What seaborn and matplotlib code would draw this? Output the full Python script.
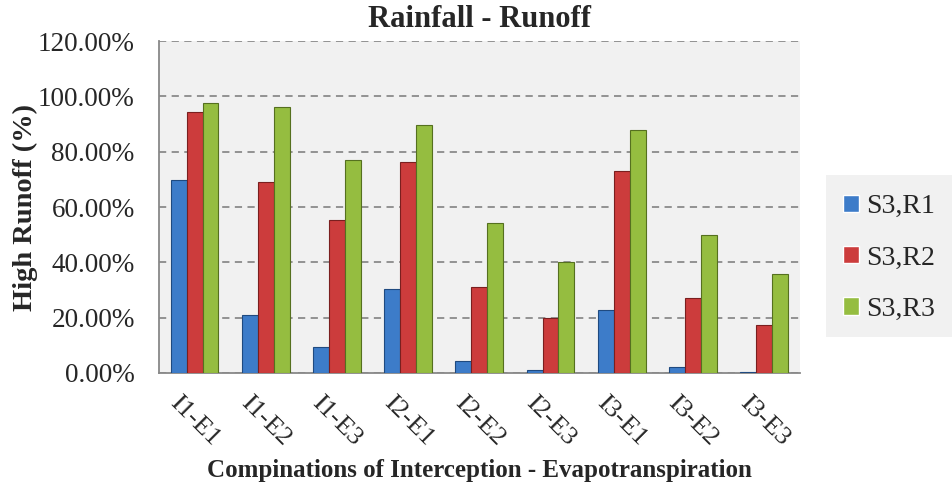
import numpy as np
import pandas as pd
import matplotlib
matplotlib.use("Agg")
import matplotlib.pyplot as plt
from matplotlib.patches import Rectangle
from matplotlib.ticker import PercentFormatter, FixedLocator
import seaborn as sns

# data (percent)
combos = ["I1-E1", "I1-E2", "I1-E3", "I2-E1", "I2-E2", "I2-E3", "I3-E1", "I3-E2", "I3-E3"]
s3_r1 = [69.7, 20.8, 9.3, 30.2, 4.2, 1.2, 22.6, 2.1, 0.5]
s3_r2 = [94.2, 69.0, 55.2, 76.2, 30.9, 19.8, 73.0, 27.0, 17.2]
s3_r3 = [97.5, 96.2, 77.0, 89.6, 54.3, 40.0, 87.8, 49.8, 35.7]
series = ["S3,R1", "S3,R2", "S3,R3"]
colors = ["#3d7cc9", "#cc3c3c", "#95bd40"]
edges = ["#1f4a80", "#7a1f1f", "#55701f"]

df = pd.DataFrame({"combo": combos, "S3,R1": s3_r1, "S3,R2": s3_r2, "S3,R3": s3_r3})
long = df.melt(id_vars="combo", var_name="series", value_name="runoff")

sns.set_style("white")
plt.rcParams["font.family"] = ["Liberation Serif", "DejaVu Serif"]

fig = plt.figure(figsize=(9.52, 4.9), dpi=100)

# legend box on the right (drawn below everything else)
fig.patches.append(Rectangle((826 / 952, 1 - 337 / 490), 126 / 952, 162 / 490,
                             transform=fig.transFigure, facecolor="#f1f1f1",
                             edgecolor="none", zorder=-5))

ax = fig.add_axes([0.167, 0.239, 0.673, 0.677])
ax.set_facecolor("#f1f1f1")

sns.barplot(data=long, x="combo", y="runoff", hue="series", hue_order=series,
            palette=colors, saturation=1, width=0.67, ax=ax, legend=True, zorder=3)
for cont, ec in zip(ax.containers, edges):
    for bar in cont:
        bar.set_edgecolor(ec)
        bar.set_linewidth(0.8)

ax.set_ylim(0, 120)
ax.set_xlim(-0.5, len(combos) - 0.5)
ax.yaxis.set_major_locator(FixedLocator([0, 20, 40, 60, 80, 100, 120]))
ax.yaxis.set_major_formatter(PercentFormatter(decimals=2))
ax.grid(axis="y", color="#8a8a8a", linestyle=(0, (4, 3)), linewidth=1.3, zorder=0)

for side in ["top", "right"]:
    ax.spines[side].set_visible(False)
for side in ["left", "bottom"]:
    ax.spines[side].set_color("#888888")
    ax.spines[side].set_linewidth(1.3)

ax.tick_params(axis="y", which="major", direction="inout", length=11, width=1.2,
               color="#888888", labelsize=19.5, pad=12)
ax.set_xticks(np.arange(len(combos)))
ax.set_xticklabels(combos, rotation=-45, ha="center", fontsize=19)
ax.tick_params(axis="x", which="major", length=0, pad=14)
ax.set_xticks(np.arange(len(combos) + 1) - 0.5, minor=True)
ax.tick_params(axis="x", which="minor", direction="out", length=6, width=1.2, color="#888888")

ax.set_title("Rainfall - Runoff", fontsize=22, fontweight="bold", pad=10)
ax.set_ylabel("High Runoff (%)", fontsize=20.5, fontweight="bold", labelpad=0)
ax.set_xlabel("Compinations of Interception - Evapotranspiration", fontsize=18,
              fontweight="bold", labelpad=6)

leg = fig.legend(*ax.get_legend_handles_labels(), loc="center left",
                 bbox_to_anchor=(843 / 952, 1 - 258 / 490),
                 bbox_transform=fig.transFigure, frameon=False, fontsize=20,
                 handlelength=0.58, handleheight=0.58, handletextpad=0.25,
                 labelspacing=0.95, borderpad=0, borderaxespad=0)
ax.get_legend().remove()

fig.savefig("out.png", dpi=100)
